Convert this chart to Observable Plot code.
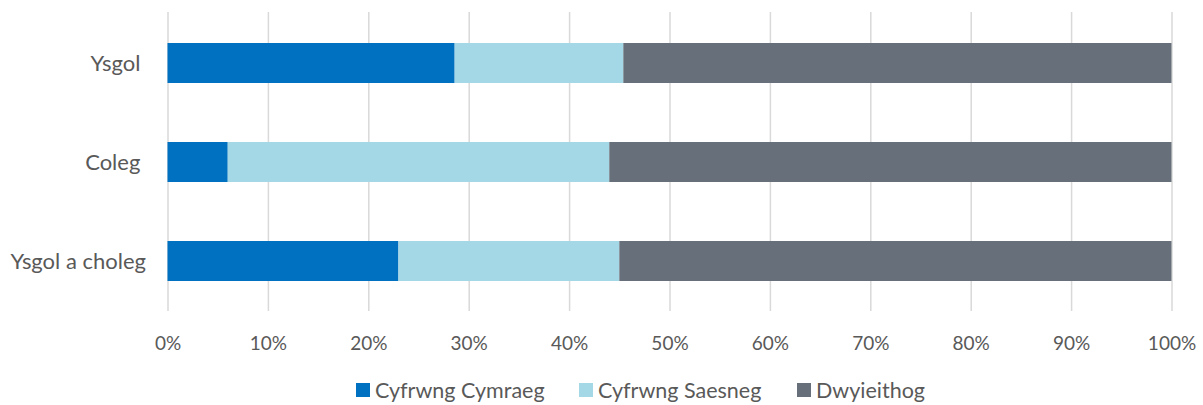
<!DOCTYPE html>
<html>
<head>
<meta charset="utf-8">
<script src="https://cdn.jsdelivr.net/npm/d3@7"></script>
<script src="https://cdn.jsdelivr.net/npm/@observablehq/plot@0.6"></script>
<style>
  html, body { margin: 0; padding: 0; background: #fff; }
  #chart { position: relative; width: 1203px; height: 405px; overflow: hidden; font-family: Lato, sans-serif; }
  .legend { position: absolute; top: 378px; left: 0; width: 1203px; height: 26px; font-size: 21.5px; line-height: 24px; color: #595959; }
  .item { position: absolute; top: 0; display: flex; align-items: center; white-space: nowrap; }
  .sw { width: 14px; height: 14px; margin-right: 5px; display: inline-block; }
</style>
</head>
<body>
<div id="chart"></div>
<script>
const categories = ["Ysgol", "Coleg", "Ysgol a choleg"];
const seriesNames = ["Cyfrwng Cymraeg", "Cyfrwng Saesneg", "Dwyieithog"];
const colors = ["#0070C0", "#A5D8E6", "#67707A"];
const cymraeg = [28.6, 6.0, 23.0];
const saesneg = [16.8, 38.0, 22.0];
const dwyieithog = [54.6, 56.0, 55.0];
const xTicks = [0, 10, 20, 30, 40, 50, 60, 70, 80, 90, 100];

const seriesValues = [cymraeg, saesneg, dwyieithog];
const data = [];
seriesNames.forEach((s, si) => {
  categories.forEach((c, ci) => data.push({ category: c, series: s, value: seriesValues[si][ci] }));
});

const chart = Plot.plot({
  width: 1203,
  height: 365,
  marginTop: 12,
  marginBottom: 54,
  marginLeft: 167.5,
  marginRight: 31.5,
  style: { fontFamily: "Lato, sans-serif", fontSize: "19px", color: "#595959", background: "#fff" },
  x: { domain: [0, 100], label: null },
  y: { domain: categories, paddingInner: 0.6, paddingOuter: 0.3, label: null },
  color: { domain: seriesNames, range: colors },
  marks: [
    Plot.ruleX(xTicks, { stroke: "#d9d9d9", strokeWidth: 1.5 }),
    Plot.barX(data, Plot.stackX({ y: "category", x: "value", fill: "series", order: seriesNames, inset: 0 })),
    Plot.axisX({ ticks: xTicks, tickFormat: d => d + "%", tickSize: 0, tickPadding: 25, label: null, fontSize: 19 }),
    Plot.axisY({ tickSize: 0, tickPadding: 22, label: null, fontSize: 22,
      tickFormat: d => d.includes(" ") ? d : d + "\u00a0" })
  ]
});
document.getElementById("chart").appendChild(chart);

const legend = document.createElement("div");
legend.className = "legend";
const lefts = [356, 579, 797];
seriesNames.forEach((s, i) => {
  const it = document.createElement("div");
  it.className = "item";
  it.style.left = lefts[i] + "px";
  const sw = document.createElement("span");
  sw.className = "sw";
  sw.style.background = colors[i];
  it.appendChild(sw);
  it.appendChild(document.createTextNode(s));
  legend.appendChild(it);
});
document.getElementById("chart").appendChild(legend);
</script>
</body>
</html>
